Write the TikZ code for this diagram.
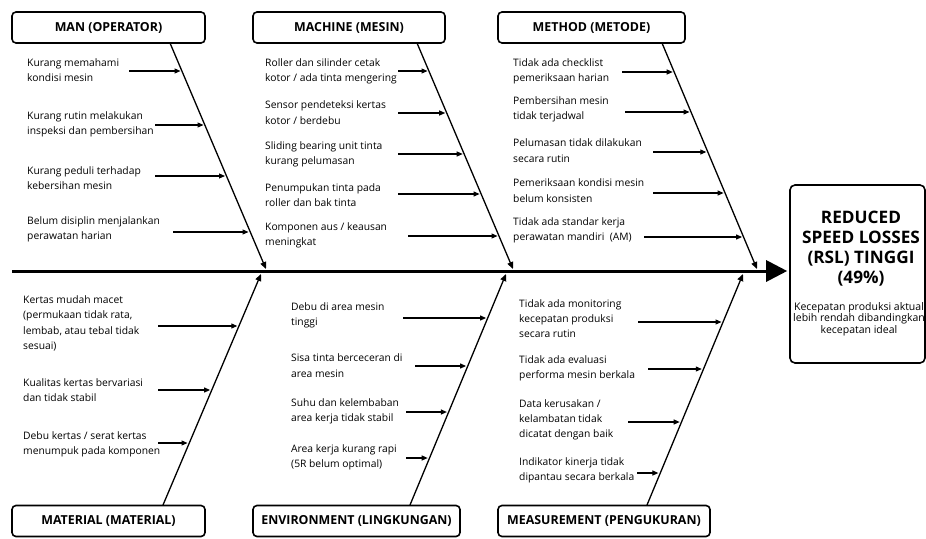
\documentclass[tikz,border=0pt]{standalone}
\usepackage{fontspec}
\setmainfont{Open Sans}
\usetikzlibrary{arrows.meta}
\begin{document}
\begin{tikzpicture}[x=1pt,y=-1pt,
  cat/.style={draw, line width=1.6pt, rounded corners=4pt, minimum height=31pt, inner sep=0pt, font=\bfseries\fontsize{12.4}{14}\selectfont},
  bone/.style={line width=1.3pt, -{Triangle[length=7pt,width=6pt]}},
  sub/.style={line width=1.1pt, -{Triangle[length=6pt,width=5pt]}, shorten >=1.5pt},
  cause/.style={anchor=west, align=left, inner sep=0pt, font=\fontsize{10.3}{15.3}\selectfont},
]
\useasboundingbox (0,0) rectangle (926,538);

% category boxes
\node[cat, minimum width=193pt] (man) at (108.5,27.5) {MAN (OPERATOR)};
\node[cat, minimum width=192pt] (mac) at (349,27.5) {MACHINE (MESIN)};
\node[cat, minimum width=187pt] (met) at (591.5,27.5) {METHOD (METODE)};
\node[cat, minimum width=193pt] (mat) at (108.5,521) {MATERIAL (MATERIAL)};
\node[cat, minimum width=207pt] (env) at (356.5,521) {ENVIRONMENT (LINGKUNGAN)};
\node[cat, minimum width=212pt] (mea) at (604,521) {MEASUREMENT (PENGUKURAN)};

% effect box
\node[draw, line width=1.6pt, rounded corners=5pt, minimum width=135pt, minimum height=178pt, inner sep=0pt] (eff) at (857.5,274) {};
\node[align=center, inner sep=0pt, font=\bfseries\fontsize{17.2}{20}\selectfont] (efft) at (861,249) {REDUCED\\SPEED LOSSES\\(RSL) TINGGI\\(49\%)};
\node[align=center, inner sep=0pt, font=\fontsize{10.5}{11.7}\selectfont] (effs) at (859,319) {Kecepatan produksi aktual\\lebih rendah dibandingkan\\kecepatan ideal};

% spine
\coordinate (sp0) at (12,271);
\draw[line width=3pt, -{Triangle[length=21pt,width=21pt]}, shorten >=2pt] (sp0) -- (sp0 -| eff.west);

% bones
\coordinate (manT) at (170,43);  \coordinate (manB) at (266,269);
\coordinate (macT) at (417,43);  \coordinate (macB) at (513,269);
\coordinate (metT) at (662,43);  \coordinate (metB) at (757,269);
\coordinate (matT) at (163,505); \coordinate (matB) at (261,274);
\coordinate (envT) at (410,505); \coordinate (envB) at (506,274);
\coordinate (meaT) at (647,505); \coordinate (meaB) at (743,274);
\foreach \b in {man,mac,met,mat,env,mea}{\draw[bone] (\b T) -- (\b B);}

% MAN causes
\node[cause] (c11) at (27,70) {Kurang memahami\\kondisi mesin};
\node[cause] (c12) at (27,124.5) {Kurang rutin melakukan\\inspeksi dan pembersihan};
\node[cause] (c13) at (27,178) {Kurang peduli terhadap\\kebersihan mesin};
\node[cause] (c14) at (27,229.5) {Belum disiplin menjalankan\\perawatan harian};
\coordinate (a11) at (129,71);  \coordinate (b11) at (182,71);
\coordinate (a12) at (155,125); \coordinate (b12) at (205,125);
\coordinate (a13) at (155,176); \coordinate (b13) at (226.5,176);
\coordinate (a14) at (173,232); \coordinate (b14) at (250,232);

% MACHINE causes
\node[cause] (c21) at (265,71) {Roller dan silinder cetak\\kotor / ada tinta mengering};
\node[cause] (c22) at (265,112.5) {Sensor pendeteksi kertas\\kotor / berdebu};
\node[cause] (c23) at (265,154) {Sliding bearing unit tinta\\kurang pelumasan};
\node[cause] (c24) at (265,195) {Penumpukan tinta pada\\roller dan bak tinta};
\node[cause] (c25) at (265,235.5) {Komponen aus / keausan\\meningkat};
\coordinate (a21) at (398,71);  \coordinate (b21) at (429,71);
\coordinate (a22) at (398,113); \coordinate (b22) at (446.7,113);
\coordinate (a23) at (398,154); \coordinate (b23) at (464.2,154);
\coordinate (a24) at (398,194); \coordinate (b24) at (481.1,194);
\coordinate (a25) at (408,236); \coordinate (b25) at (499,236);

% METHOD causes
\node[cause] (c31) at (513,71) {Tidak ada checklist\\pemeriksaan harian};
\node[cause] (c32) at (513,109.5) {Pembersihan mesin\\tidak terjadwal};
\node[cause] (c33) at (513,150.5) {Pelumasan tidak dilakukan\\secara rutin};
\node[cause] (c34) at (513,190.5) {Pemeriksaan kondisi mesin\\belum konsisten};
\node[cause] (c35) at (513,230.5) {Tidak ada standar kerja\\perawatan mandiri\ \ (AM)};
\coordinate (a31) at (622,72);  \coordinate (b31) at (674.2,72);
\coordinate (a32) at (625,112); \coordinate (b32) at (691,112);
\coordinate (a33) at (653,152); \coordinate (b33) at (707.8,152);
\coordinate (a34) at (653,193); \coordinate (b34) at (725.1,193);
\coordinate (a35) at (644,237); \coordinate (b35) at (743.6,237);

% MATERIAL causes
\node[cause] (c41) at (23,323.5) {Kertas mudah macet\\(permukaan tidak rata,\\lembab, atau tebal tidak\\sesuai)};
\node[cause] (c42) at (23,390) {Kualitas kertas bervariasi\\dan tidak stabil};
\node[cause] (c43) at (23,444) {Debu kertas / serat kertas\\menumpuk pada komponen};
\coordinate (a41) at (158,326); \coordinate (b41) at (238.8,326);
\coordinate (a42) at (158,390); \coordinate (b42) at (211.6,390);
\coordinate (a43) at (158,443); \coordinate (b43) at (189,443);

% ENVIRONMENT causes
\node[cause] (c51) at (291,315) {Debu di area mesin\\tinggi};
\node[cause] (c52) at (291,365.5) {Sisa tinta berceceran di\\area mesin};
\node[cause] (c53) at (291,411.5) {Suhu dan kelembaban\\area kerja tidak stabil};
\node[cause] (c54) at (291,457.5) {Area kerja kurang rapi\\(5R belum optimal)};
\coordinate (a51) at (403,318); \coordinate (b51) at (487.6,318);
\coordinate (a52) at (415,366); \coordinate (b52) at (467.6,366);
\coordinate (a53) at (406,412); \coordinate (b53) at (448.4,412);
\coordinate (a54) at (406,458); \coordinate (b54) at (429.2,458);

% MEASUREMENT causes
\node[cause] (c61) at (519,318.5) {Tidak ada monitoring\\kecepatan produksi\\secara rutin};
\node[cause] (c62) at (519,368) {Tidak ada evaluasi\\performa mesin berkala};
\node[cause] (c63) at (519,420) {Data kerusakan /\\kelambatan tidak\\dicatat dengan baik};
\node[cause] (c64) at (519,470) {Indikator kinerja tidak\\dipantau secara berkala};
\coordinate (a61) at (638,322); \coordinate (b61) at (723,322);
\coordinate (a62) at (648,369); \coordinate (b62) at (703.3,369);
\coordinate (a63) at (628,422); \coordinate (b63) at (681.2,422);
\coordinate (a64) at (637,473); \coordinate (b64) at (659.9,473);

\foreach \i in {11,12,13,14,21,22,23,24,25,31,32,33,34,35,41,42,43,51,52,53,54,61,62,63,64}{
  \draw[sub] (a\i) -- (b\i);
}
\end{tikzpicture}
\end{document}
